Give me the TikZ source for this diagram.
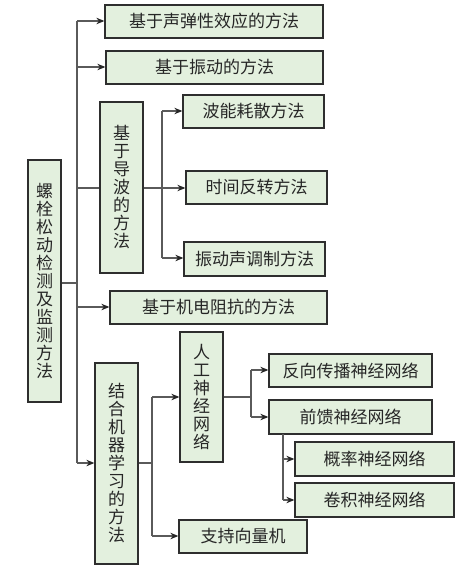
\documentclass[tikz,border=0pt]{standalone}
\usepackage{fontspec}
\newfontfamily\cjk{Noto Sans CJK SC}
\usetikzlibrary{arrows.meta}
\definecolor{boxfill}{HTML}{E3F0DE}
\definecolor{boxline}{HTML}{2E2E2E}
\definecolor{conline}{HTML}{5A5A5A}
\begin{document}
\begin{tikzpicture}[x=1pt,y=-1pt,
  box/.style={draw=boxline,line width=1.3pt,fill=boxfill,inner sep=0pt,
    font=\cjk\fontsize{17}{18}\selectfont,text=black!85,align=center},
  con/.style={draw=conline,line width=1.1pt},
  arr/.style={con,-{Stealth[length=8pt,width=6.5pt,fill=black!85,color=black!85]}}]
\useasboundingbox (0,0) rectangle (469,572);
\fill[white] (0,0) rectangle (469,572);
% nodes
\node[box,minimum width=33pt,minimum height=242pt] (root) at (44.5,281) {螺\\栓\\松\\动\\检\\测\\及\\监\\测\\方\\法};
\node[box,minimum width=218pt,minimum height=33pt] (b1) at (214,21.5) {基于声弹性效应的方法};
\node[box,minimum width=217pt,minimum height=33pt] (b2) at (214.5,67.5) {基于振动的方法};
\node[box,minimum width=43pt,minimum height=171pt] (b3) at (121.5,187.5) {基\\于\\导\\波\\的\\方\\法};
\node[box,minimum width=141pt,minimum height=33pt] (b31) at (253.5,111.5) {波能耗散方法};
\node[box,minimum width=141pt,minimum height=33pt] (b32) at (256.5,187.5) {时间反转方法};
\node[box,minimum width=141pt,minimum height=34pt] (b33) at (254.5,259) {振动声调制方法};
\node[box,minimum width=217pt,minimum height=33pt] (b4) at (218.5,307.5) {基于机电阻抗的方法};
\node[box,minimum width=43pt,minimum height=201pt] (b5) at (116.5,463.5) {结\\合\\机\\器\\学\\习\\的\\方\\法};
\node[box,minimum width=43pt,minimum height=130pt] (b51) at (201.5,397) {人\\工\\神\\经\\网\\络};
\node[box,minimum width=128pt,minimum height=33pt] (b52) at (243,536.5) {支持向量机};
\node[box,minimum width=163pt,minimum height=33pt] (b511) at (350.5,370.5) {反向传播神经网络};
\node[box,minimum width=163pt,minimum height=34pt] (b512) at (350.5,417) {前馈神经网络};
\node[box,minimum width=159pt,minimum height=34pt] (b5121) at (374.5,459) {概率神经网络};
\node[box,minimum width=159pt,minimum height=34pt] (b5122) at (374.5,500) {卷积神经网络};
% trunk coordinates
\coordinate (ta) at (77,21);
\coordinate (tb) at (77,67);
\coordinate (tc) at (77,188);
\coordinate (tr) at (77,283);
\coordinate (td) at (77,307);
\coordinate (te) at (77,463);
\draw[con] (ta) -- (te);
\draw[con] (root.east |- tr) -- (tr);
\draw[arr] (ta) -- (ta -| b1.west);
\draw[arr] (tb) -- (tb -| b2.west);
\draw[con] (tc) -- (tc -| b3.west);
\draw[arr] (td) -- (td -| b4.west);
\draw[arr] (te) -- (te -| b5.west);
% guided wave branch
\coordinate (ga) at (162,111);
\coordinate (gb) at (162,188);
\coordinate (gc) at (162,258);
\draw[con] (ga) -- (gc);
\draw[con] (b3.east |- gb) -- (gb);
\draw[arr] (ga) -- (ga -| b31.west);
\draw[arr] (gb) -- (gb -| b32.west);
\draw[arr] (gc) -- (gc -| b33.west);
% machine learning branch
\coordinate (ma) at (152,397);
\coordinate (mb) at (152,463);
\coordinate (mc) at (152,536);
\draw[con] (ma) -- (mc);
\draw[con] (b5.east |- mb) -- (mb);
\draw[arr] (ma) -- (ma -| b51.west);
\draw[arr] (mc) -- (mc -| b52.west);
% ANN branch
\coordinate (na) at (251,370);
\coordinate (nb) at (251,397);
\coordinate (nc) at (251,417);
\draw[con] (na) -- (nc);
\draw[con] (b51.east |- nb) -- (nb);
\draw[arr] (na) -- (na -| b511.west);
\draw[arr] (nc) -- (nc -| b512.west);
% feedforward branch
\coordinate (fa) at (283,434);
\coordinate (fb) at (283,459);
\coordinate (fc) at (283,500);
\draw[con] (fa) -- (fc);
\draw[arr] (fb) -- (fb -| b5121.west);
\draw[arr] (fc) -- (fc -| b5122.west);
\end{tikzpicture}
\end{document}
